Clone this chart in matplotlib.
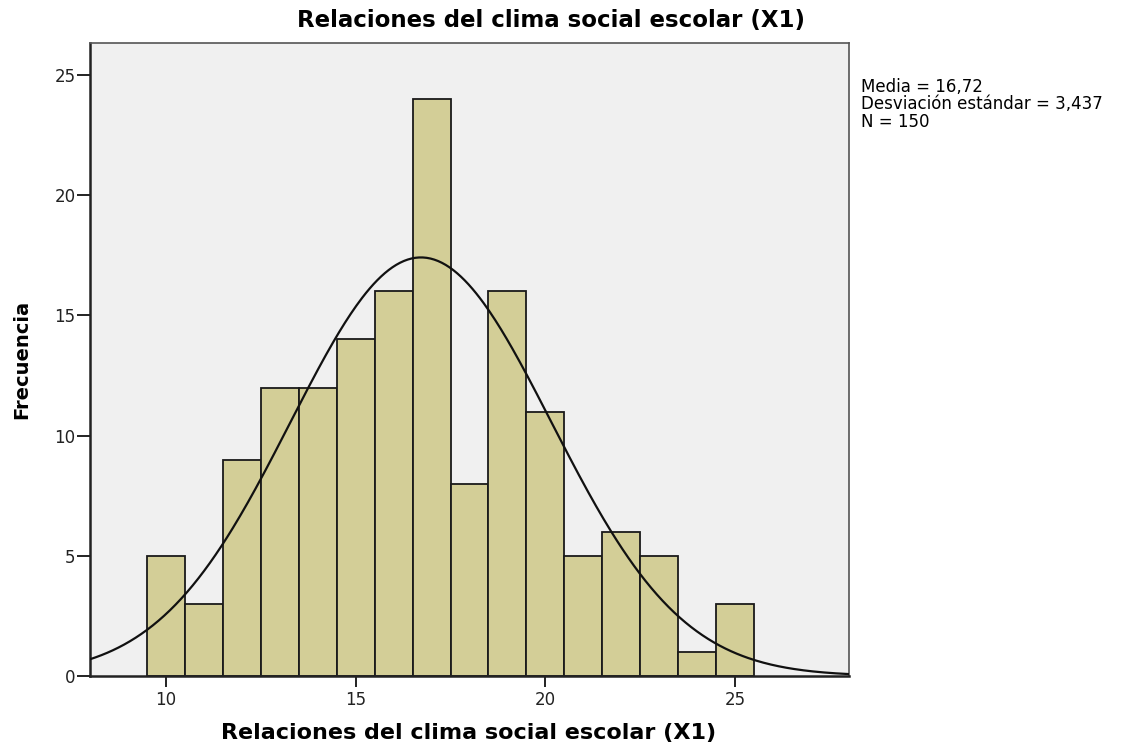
import numpy as np
import matplotlib
matplotlib.use("Agg")
import matplotlib.pyplot as plt

plt.rcParams['font.family'] = ['DejaVu Sans']

# Data
bin_centers = [10, 11, 12, 13, 14, 15, 16, 17, 18, 19, 20, 21, 22, 23, 24, 25]
frequencies = [5, 3, 9, 12, 12, 14, 16, 24, 8, 16, 11, 5, 6, 5, 1, 3]
mean = 16.72
std = 3.437
n = 150
xticks = [10, 15, 20, 25]
yticks = [0, 5, 10, 15, 20, 25]
title = "Relaciones del clima social escolar (X1)"
ylabel = "Frecuencia"
stats_text = "Media = 16,72\nDesviación estándar = 3,437\nN = 150"

fig = plt.figure(figsize=(11.28, 7.49), dpi=100)
fig.patch.set_facecolor('white')
ax = fig.add_axes([90/1128, 1-676/749, (849-90)/1128, (676-43)/749])
ax.set_facecolor('#F0F0F0')

ax.bar(bin_centers, frequencies, width=1.0, color='#D3CE97', edgecolor='#1a1a1a', linewidth=1.3, zorder=2)

xs = np.linspace(8, 28, 400)
ys = n * 1.0 / (std * np.sqrt(2*np.pi)) * np.exp(-0.5*((xs-mean)/std)**2)
ax.plot(xs, ys, color='#111111', linewidth=1.6, zorder=3)

ax.set_xlim(8, 28)
ax.set_ylim(0, 26.33)
ax.set_xticks(xticks)
ax.set_yticks(yticks)
ax.tick_params(axis='y', direction='out', length=9.5, width=1.4, labelsize=12, colors='#222222', pad=1)
ax.tick_params(axis='x', direction='out', length=8, width=1.4, labelsize=12, colors='#222222', pad=3)
for s in ax.spines.values():
    s.set_color('#555555')
    s.set_linewidth(1.2)
ax.spines['left'].set_color('#222222')
ax.spines['bottom'].set_color('#222222')
ax.spines['left'].set_linewidth(1.8)
ax.spines['bottom'].set_linewidth(1.8)

fig.text(551/1128, 1-21/749, title, ha='center', va='center', fontsize=16.5, fontweight='bold')
fig.text(469/1128, 1-733/749, title, ha='center', va='center', fontsize=16, fontweight='bold')
fig.text(22/1128, 1-359/749, ylabel, ha='center', va='center', rotation=90, fontsize=14, fontweight='bold')
fig.text(861/1128, 1-78/749, stats_text, ha='left', va='top', fontsize=12, linespacing=0.95)

fig.savefig('out.png', dpi=100)
